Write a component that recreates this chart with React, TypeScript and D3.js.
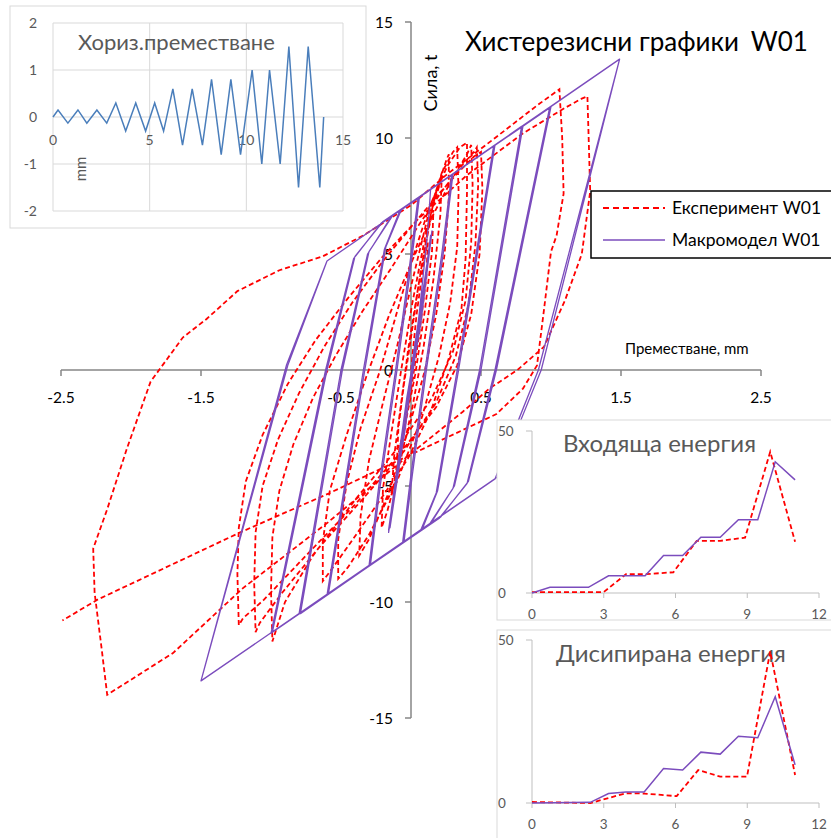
import React from "react";
import * as d3 from "d3";

// main hysteresis: displacement (mm) vs force (t)
const xTicks = [-2.5, -1.5, -0.5, 0.5, 1.5, 2.5];
const yTicks = [-15, -10, -5, 0, 5, 10, 15];

const testPath: [number, number][] = [
  [0, 0], [0.04, 2.4], [0.09, 4.6], [0.12, 5.5], [0.11, 4.0], [0.06, 1.6], [0.0, -0.9], [-0.06, -2.8], [-0.1, -3.9], [-0.09, -2.5], [-0.05, -0.6],
  [0.0, 1.4], [0.07, 4.3], [0.13, 6.2], [0.16, 6.9], [0.15, 5.1], [0.1, 2.6], [0.03, -0.2], [-0.05, -2.6], [-0.11, -4.6], [-0.14, -5.4], [-0.12, -3.7], [-0.07, -1.4],
  [-0.02, 0.9], [0.06, 3.9], [0.14, 6.7], [0.2, 7.9], [0.22, 8.4], [0.21, 6.7], [0.16, 3.9], [0.09, 1.0], [0.01, -1.6], [-0.09, -4.3], [-0.17, -6.1], [-0.21, -6.8], [-0.2, -5.1], [-0.14, -2.7],
  [-0.07, 0], [0.01, 2.9], [0.1, 5.7], [0.19, 7.9], [0.25, 9.0], [0.27, 9.3], [0.27, 7.4], [0.24, 5.0], [0.18, 2.4], [0.1, 0], [-0.02, -2.6], [-0.16, -5.3], [-0.3, -7.3], [-0.37, -8.0], [-0.36, -6.3], [-0.3, -3.9], [-0.2, -1.4],
  [-0.1, 1.0], [0.0, 3.6], [0.12, 6.6], [0.22, 8.5], [0.3, 9.4], [0.33, 9.6], [0.34, 7.7], [0.33, 5.3], [0.28, 2.9], [0.2, 0.6], [0.08, -2.0], [-0.1, -4.8], [-0.3, -7.1], [-0.45, -8.5], [-0.52, -9.0], [-0.52, -7.3], [-0.46, -4.9], [-0.36, -2.5], [-0.22, 0],
  [-0.1, 2.5], [0.0, 4.6], [0.13, 7.0], [0.26, 8.8], [0.35, 9.6], [0.4, 9.8], [0.4, 7.7], [0.39, 4.8], [0.36, 2.6], [0.27, 0.5], [0.14, -1.8], [-0.02, -3.8], [-0.22, -5.6], [-0.45, -7.6], [-0.58, -8.7], [-0.63, -9.1], [-0.63, -7.4], [-0.58, -5.2], [-0.46, -2.8], [-0.32, -0.3], [-0.16, 2.3], [0.0, 4.6], [0.15, 6.6],
  [0.3, 8.3], [0.4, 9.3], [0.43, 9.7], [0.44, 8.0], [0.43, 5.5], [0.39, 3.0], [0.3, 0.8], [0.15, -1.2], [-0.1, -3.4], [-0.4, -5.6], [-0.7, -8.0], [-0.9, -10.0], [-0.99, -11.7],
  [-1.0, -9.5], [-0.99, -7.2], [-0.94, -5.2], [-0.84, -3.2], [-0.7, -1.2], [-0.54, 0.6], [-0.35, 2.5], [-0.14, 4.4], [0.05, 6.2], [0.22, 7.7], [0.36, 8.8],
  [0.45, 9.4], [0.47, 9.6], [0.48, 8.0], [0.46, 5.4], [0.41, 2.8], [0.32, 0.6], [0.18, -1.4], [-0.05, -3.5], [-0.35, -5.6], [-0.65, -7.6], [-0.92, -9.6], [-1.08, -10.9], [-1.11, -11.3],
  [-1.12, -9.2], [-1.11, -7.0], [-1.06, -5.0], [-0.95, -3.0], [-0.8, -1.0], [-0.62, 1.0], [-0.42, 2.9], [-0.2, 4.7], [0.02, 6.3], [0.2, 7.6],
  [0.35, 8.6], [0.45, 9.2], [0.5, 9.4], [0.51, 7.8], [0.49, 5.0], [0.43, 2.4], [0.33, 0.2], [0.18, -1.6], [-0.08, -3.6], [-0.4, -5.8], [-0.75, -8.0], [-1.05, -9.9], [-1.2, -10.7], [-1.23, -11.0],
  [-1.24, -8.8], [-1.23, -6.8], [-1.18, -4.8], [-1.06, -2.8], [-0.88, -0.6], [-0.68, 1.3], [-0.45, 3.1], [-0.2, 4.9], [0.05, 6.5], [0.4, 8.4], [0.8, 10.2], [1.1, 11.3], [1.22, 11.7], [1.26, 11.8],
  [1.27, 9.8], [1.28, 7.7], [1.22, 5.0], [1.1, 3.0], [0.95, 1.0], [0.76, 0], [0.56, -0.8], [0.37, -1.8], [0.0, -3.6], [-0.6, -6.6], [-1.2, -9.4], [-1.7, -12.2], [-2.17, -14.0],
  [-2.21, -12.0], [-2.26, -9.6], [-2.27, -7.7], [-2.17, -6.0], [-2.03, -3.4], [-1.86, -0.5], [-1.63, 1.4], [-1.46, 2.2], [-1.24, 3.4], [-0.94, 4.3], [-0.63, 4.9], [-0.34, 5.8], [0.0, 7.1], [0.25, 8.4], [0.6, 10.0], [0.9, 11.4], [1.06, 12.1],
  [1.08, 10.0], [1.09, 7.6], [1.04, 5.8], [1.0, 5.1], [0.95, 2.6], [0.9, 0.2], [0.8, -0.8], [0.61, -1.9], [-0.58, -5.3], [-1.22, -7.0], [-2.24, -9.9], [-2.49, -10.8],
];

const modelPath: [number, number][] = [
  [0, 0], [0.05, 2.0], [0.14, 5.6], [0.06, 2.2], [-0.02, -1.0], [-0.15, -6.8], [-0.06, -3.2], [0.03, 0.6], [0.14, 5.8], [0.06, 2.0], [-0.03, -1.2], [-0.16, -6.9],
  [-0.07, -3.1], [0.02, 0.7], [0.15, 6.0], [0.07, 2.0], [-0.03, -1.5], [-0.16, -7.0],
  [-0.04, -2.5], [0.06, 2.5], [0.12, 6.0], [0.14, 7.8], [0.29, 8.4], [0.22, 5.0], [0.1, 0], [0.0, -4.5], [-0.06, -7.45], [-0.29, -8.4],
  [-0.22, -5.0], [-0.1, 0], [0.0, 4.5], [0.06, 7.45], [0.3, 8.45], [0.23, 5.0], [0.11, 0], [0.01, -4.5], [-0.05, -7.4], [-0.3, -8.45],
  [-0.23, -5.0], [-0.11, 0], [-0.01, 4.5], [0.05, 7.4],
  [0.59, 9.65], [0.33, 0], [0.18, -5.3], [0.07, -6.9], [-0.59, -9.65], [-0.33, 0], [-0.18, 5.3], [-0.07, 6.9],
  [0.6, 9.7], [0.34, 0], [0.19, -5.2], [0.08, -6.87], [-0.6, -9.7], [-0.34, 0], [-0.19, 5.2], [-0.08, 6.87],
  [0.79, 10.5], [0.49, 0], [0.3, -5.1], [0.13, -6.66], [-0.79, -10.5], [-0.49, 0], [-0.3, 5.1], [-0.13, 6.66],
  [0.8, 10.52], [0.5, 0], [0.31, -5.0], [0.14, -6.62], [-0.8, -10.52], [-0.5, 0], [-0.31, 5.0], [-0.14, 6.62],
  [0.99, 11.3], [0.6, 0], [0.4, -4.9], [0.2, -6.4], [-0.99, -11.3], [-0.6, 0], [-0.4, 4.9], [-0.2, 6.4],
  [1.0, 11.35], [0.61, 0], [0.41, -4.8], [0.21, -6.35], [-1.0, -11.35], [-0.61, 0], [-0.41, 4.8], [-0.21, 6.35],
  [1.49, 13.4], [0.91, 0], [0.6, -4.7], [-1.5, -13.4], [-0.89, 0.2], [-0.6, 4.7],
  [1.49, 13.4], [0.93, 0], [0.62, -4.6], [-1.5, -13.4], [-0.88, 0.2], [-0.6, 4.7],
];

// top-left inset: horizontal displacement history
const dispT = [0, 0.26, 0.77, 1.29, 1.75, 2.27, 2.78, 3.25, 3.76, 4.28, 4.79, 5.26, 5.72, 6.2, 6.7, 7.2, 7.73, 8.2, 8.7, 9.2, 9.7, 10.3, 10.8, 11.2, 11.75, 12.2, 12.7, 13.2, 13.8, 14.0];
const dispV = [0, 0.15, -0.13, 0.15, -0.13, 0.15, -0.13, 0.3, -0.3, 0.3, -0.3, 0.3, -0.3, 0.6, -0.6, 0.6, -0.6, 0.8, -0.8, 0.8, -0.8, 1.0, -1.0, 1.0, -1.0, 1.5, -1.5, 1.5, -1.5, 0];
const dispXTicks = [0, 5, 10, 15];
const dispYTicks = [-2, -1, 0, 1, 2];

// energy insets
const energyXTicks = [0, 3, 6, 9, 12];
const inModelX = [0, 0.75, 2.36, 3.2, 4.73, 5.5, 6.3, 7.06, 7.87, 8.63, 9.44, 10.17, 11.0];
const inModelY = [0, 1.75, 1.75, 5.3, 5.3, 11.6, 11.6, 17.2, 17.2, 22.6, 22.6, 40.5, 34.9];
const inTestX = [0, 3.0, 3.93, 4.73, 5.91, 6.89, 7.87, 8.91, 9.96, 11.0];
const inTestY = [0.3, 0.3, 5.8, 5.8, 6.4, 16.1, 16.1, 17.1, 43.6, 15.8];
const disModelX = [0, 2.44, 3.2, 3.93, 4.69, 5.5, 6.3, 7.06, 7.87, 8.63, 9.44, 10.17, 11.0];
const disModelY = [0, 0.2, 2.9, 3.4, 3.4, 10.6, 10.1, 15.6, 15.0, 20.5, 20.0, 32.6, 11.7];
const disTestX = [0, 2.44, 3.93, 4.69, 6.05, 6.95, 7.87, 8.99, 9.96, 11.0];
const disTestY = [0.3, 0, 3.0, 2.9, 2.1, 10.1, 8.1, 8.1, 46.5, 8.6];

const RED = "#ff0000";
const PURPLE = "#7b4cbd";
const FONT = "Lato, 'Open Sans', sans-serif";

function EnergyInset({ top, h, axisY, topY, title, titleX, mX, mY, tX, tY }: any) {
  const x = d3.scaleLinear().domain([0, 12]).range([532, 819]);
  const y = d3.scaleLinear().domain([0, 50]).range([axisY, topY]);
  const line = d3.line<number>().x((d) => x(d[0])).y((d) => y(d[1]));
  const m = mX.map((v: number, i: number) => [v, mY[i]]);
  const t = tX.map((v: number, i: number) => [v, tY[i]]);
  return (
    <g>
      <rect x={497} y={top} width={345} height={h} fill="#fff" stroke="#d9d9d9" />
      <line x1={532} x2={532} y1={topY} y2={axisY} stroke="#bfbfbf" />
      <line x1={532} x2={819} y1={axisY} y2={axisY} stroke="#bfbfbf" />
      {[0, 50].map((v) => (
        <g key={v}>
          <line x1={526} x2={532} y1={y(v)} y2={y(v)} stroke="#bfbfbf" />
          <text x={498} y={y(v) + 5} fontSize={13.5} fill="#595959">{v}</text>
        </g>
      ))}
      {energyXTicks.map((v) => (
        <g key={v}>
          <line x1={x(v)} x2={x(v)} y1={axisY} y2={axisY + 5} stroke="#bfbfbf" />
          <text x={x(v)} y={axisY + 26} fontSize={13.5} fill="#595959" textAnchor="middle">{v}</text>
        </g>
      ))}
      <text x={titleX} y={top + 32} fontSize={24} fill="#595959">{title}</text>
      <path d={line(t as any) || ""} fill="none" stroke={RED} strokeWidth={1.8} strokeDasharray="5,3" />
      <path d={line(m as any) || ""} fill="none" stroke={PURPLE} strokeWidth={1.5} />
    </g>
  );
}

export default function App() {
  const x = d3.scaleLinear().domain([-2.5, 2.5]).range([61, 761]);
  const y = d3.scaleLinear().domain([-15, 15]).range([718, 22]);
  const line = d3.line<[number, number]>().x((d) => x(d[0])).y((d) => y(d[1]));

  const ix = d3.scaleLinear().domain([0, 15]).range([53, 343]);
  const iy = d3.scaleLinear().domain([-2, 2]).range([211, 23]);
  const dispLine = d3.line<number>().x((d, i) => ix(dispT[i])).y((d) => iy(d));

  return (
    <svg width={831} height={838} style={{ position: "absolute", left: 0, top: 0, background: "#fff" }} fontFamily={FONT}>
      <rect width={831} height={838} fill="#fff" />
      {/* main axes */}
      <line x1={x(-2.5)} x2={x(2.5)} y1={y(0)} y2={y(0)} stroke="#868686" strokeWidth={1.5} />
      <line x1={x(0)} x2={x(0)} y1={y(15)} y2={y(-15)} stroke="#868686" strokeWidth={1.5} />
      {xTicks.map((v) => (
        <g key={v}>
          <line x1={x(v)} x2={x(v)} y1={y(0)} y2={y(0) + 6} stroke="#868686" strokeWidth={1.5} />
          <text x={x(v)} y={y(0) + 33} fontSize={15.5} textAnchor="middle" fill="#000">{v}</text>
        </g>
      ))}
      {yTicks.map((v) => (
        <g key={v}>
          <line x1={x(0) - 6} x2={x(0)} y1={y(v)} y2={y(v)} stroke="#868686" strokeWidth={1.5} />
          <text x={393} y={y(v) + 6} fontSize={15.5} textAnchor="end" fill="#000">{v}</text>
        </g>
      ))}
      <path d={line(testPath) || ""} fill="none" stroke={RED} strokeWidth={1.8} strokeDasharray="5,3" />
      <path d={line(modelPath) || ""} fill="none" stroke={PURPLE} strokeWidth={1.3} strokeLinejoin="round" />

      <text x={465} y={51} fontSize={26} fill="#000">Хистерезисни графики<tspan dx={12}>W01</tspan></text>
      <text transform="translate(437,83) rotate(-90)" fontSize={18} textAnchor="middle" fill="#000">Сила, t</text>
      <text x={625} y={354} fontSize={15} fill="#000">Преместване, mm</text>

      {/* legend */}
      <rect x={591} y={191} width={260} height={67} fill="#fff" stroke="#000" strokeWidth={1.5} />
      <line x1={603} x2={665} y1={208} y2={208} stroke={RED} strokeWidth={1.8} strokeDasharray="6,4" />
      <text x={672} y={214} fontSize={17.5} fill="#000">Експеримент W01</text>
      <line x1={603} x2={665} y1={240} y2={240} stroke={PURPLE} strokeWidth={1.5} />
      <text x={672} y={246} fontSize={17.5} fill="#000">Макромодел W01</text>

      {/* displacement inset */}
      <g>
        <rect x={10} y={6} width={356} height={222} fill="#fff" stroke="#d9d9d9" />
        {dispYTicks.map((v) => (
          <g key={v}>
            <line x1={ix(0)} x2={ix(15)} y1={iy(v)} y2={iy(v)} stroke="#d9d9d9" />
            <text x={37} y={iy(v) + 5} fontSize={14} textAnchor="end" fill="#595959">{v}</text>
          </g>
        ))}
        {dispXTicks.map((v) => (
          <g key={v}>
            <line x1={ix(v)} x2={ix(v)} y1={iy(2)} y2={iy(-2)} stroke="#d9d9d9" />
            <text x={ix(v)} y={iy(0) + 28} fontSize={14} textAnchor="middle" fill="#595959">{v}</text>
          </g>
        ))}
        <text transform="translate(86,169) rotate(-90)" fontSize={15} textAnchor="middle" fill="#595959">mm</text>
        <text x={78} y={50} fontSize={22} fill="#595959">Хориз.преместване</text>
        <path d={dispLine(dispV) || ""} fill="none" stroke="#4a7ebb" strokeWidth={1.5} />
      </g>

      <EnergyInset top={420} h={200} axisY={593} topY={431} title="Входяща енергия" titleX={563}
        mX={inModelX} mY={inModelY} tX={inTestX} tY={inTestY} />
      <EnergyInset top={630} h={215} axisY={803} topY={640} title="Дисипирана енергия" titleX={556}
        mX={disModelX} mY={disModelY} tX={disTestX} tY={disTestY} />
    </svg>
  );
}
